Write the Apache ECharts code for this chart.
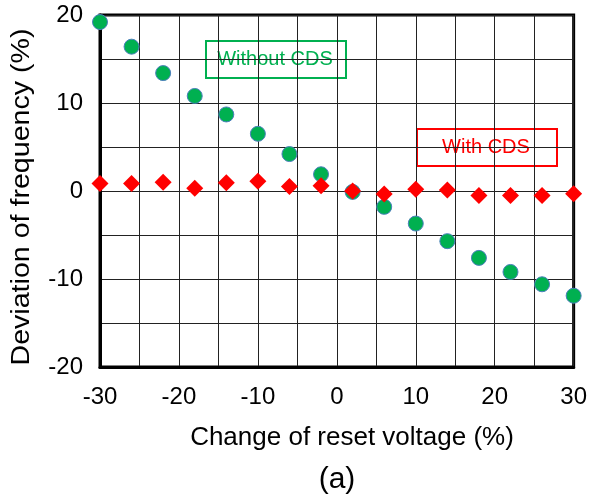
<!DOCTYPE html>
<html>
<head>
<meta charset="utf-8">
<script src="https://cdn.jsdelivr.net/npm/echarts@6/dist/echarts.min.js"></script>
<style>
  html, body { margin: 0; padding: 0; background: #fff; }
  #chart { width: 590px; height: 495px; }
</style>
</head>
<body>
<div id="chart"></div>
<script>
// reset voltage change (%)
const resetChange = [-30, -26, -22, -18, -14, -10, -6, -2, 2, 6, 10, 14, 18, 22, 26, 30];
// frequency deviation (%)
const withoutCds = [19.2, 16.4, 13.4, 10.8, 8.7, 6.5, 4.2, 1.9, -0.1, -1.8, -3.7, -5.7, -7.6, -9.2, -10.6, -11.9];
const withCds = [0.85, 0.85, 1.0, 0.3, 0.95, 1.1, 0.5, 0.6, 0.0, -0.35, 0.2, 0.1, -0.5, -0.5, -0.5, -0.3];

const font = '"Liberation Sans", Arial, sans-serif';
const green = '#00b050';
const red = '#ff0000';

const chart = echarts.init(document.getElementById('chart'));

const tenOnly = v => (v % 10 === 0 ? String(v) : '');

chart.setOption({
  animation: false,
  grid: {
    left: 100, right: 15, top: 15, bottom: 128,
    show: true, borderColor: '#000', borderWidth: 3
  },
  xAxis: {
    type: 'value', min: -30, max: 30, interval: 5,
    axisLine: { show: true, onZero: false, lineStyle: { color: '#000', width: 3 } },
    axisTick: { show: false },
    axisLabel: { formatter: tenOnly, margin: 18, color: '#000', fontSize: 24, fontFamily: font },
    splitLine: { show: true, lineStyle: { color: '#222', width: 1 } }
  },
  yAxis: {
    type: 'value', min: -20, max: 20, interval: 5,
    axisLine: { show: true, onZero: false, lineStyle: { color: '#000', width: 3 } },
    axisTick: { show: false },
    axisLabel: { formatter: tenOnly, margin: 17, color: '#000', fontSize: 24, fontFamily: font },
    splitLine: { show: true, lineStyle: { color: '#222', width: 1 } }
  },
  series: [
    {
      name: 'Without CDS',
      type: 'scatter',
      symbol: 'circle',
      symbolSize: 15,
      itemStyle: { color: green, opacity: 1, borderColor: '#4a7ebb', borderWidth: 1 },
      data: resetChange.map((x, i) => [x, withoutCds[i]])
    },
    {
      name: 'With CDS',
      type: 'scatter',
      symbol: 'diamond',
      symbolSize: [17, 17],
      itemStyle: { color: red, opacity: 1 },
      data: resetChange.map((x, i) => [x, withCds[i]])
    }
  ],
  graphic: [
    {
      type: 'rect', left: 205, top: 40,
      shape: { width: 140, height: 37 },
      style: { fill: '#fff', stroke: green, lineWidth: 2 }
    },
    {
      type: 'text', x: 275, y: 59,
      style: { text: 'Without CDS', fill: green, font: '20px ' + font, align: 'center', verticalAlign: 'middle' }
    },
    {
      type: 'rect', left: 416, top: 128,
      shape: { width: 140, height: 37 },
      style: { fill: '#fff', stroke: red, lineWidth: 2 }
    },
    {
      type: 'text', x: 486, y: 147,
      style: { text: 'With CDS', fill: red, font: '20px ' + font, align: 'center', verticalAlign: 'middle' }
    },
    {
      type: 'text', x: 352, y: 438,
      style: { text: 'Change of reset voltage (%)', fill: '#000', font: '26px ' + font, align: 'center', verticalAlign: 'middle' }
    },
    {
      type: 'text', x: 22, y: 197, rotation: Math.PI / 2, scaleX: 1.1,
      style: { text: 'Deviation of frequency (%)', fill: '#000', font: '26px ' + font, align: 'center', verticalAlign: 'middle' }
    },
    {
      type: 'text', x: 337, y: 480,
      style: { text: '(a)', fill: '#000', font: '30px ' + font, align: 'center', verticalAlign: 'middle' }
    }
  ]
});
</script>
</body>
</html>
